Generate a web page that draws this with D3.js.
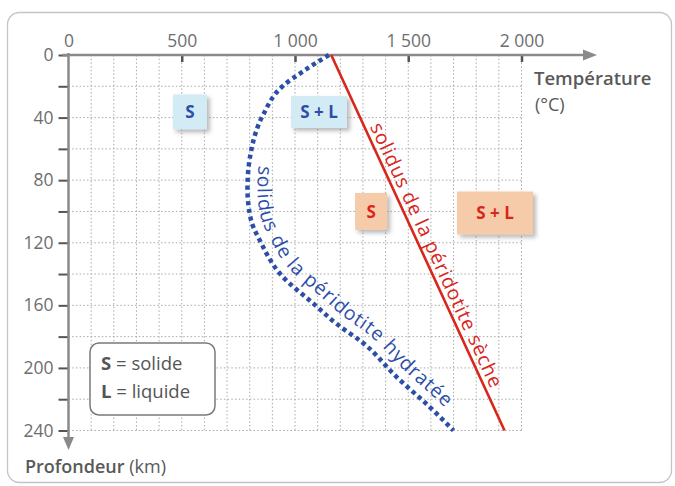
<!DOCTYPE html>
<html><head><meta charset="utf-8">
<script src="https://cdn.jsdelivr.net/npm/d3@7"></script>
<style>body{margin:0;background:#fff} svg{display:block;font-family:"Open Sans",sans-serif}</style>
</head><body><svg id="c" width="675" height="486"></svg>
<script>
// ---- data ----
const tempTicks = [0, 500, 1000, 1500, 2000];
const tempTickLabels = ["0", "500", "1 000", "1 500", "2 000"];
const depthTicks = [0, 20, 40, 60, 80, 100, 120, 140, 160, 180, 200, 220, 240];
const depthTickLabels = ["0", "", "40", "", "80", "", "120", "", "160", "", "200", "", "240"];
const drySolidusTemp = [1160, 1925];
const drySolidusDepth = [0, 240];
const wetSolidusTemp = [1150, 1040, 945, 860, 808, 790, 805, 850, 935, 1090, 1185, 1300, 1450, 1595, 1700];
const wetSolidusDepth = [0, 10, 20, 38, 60, 85, 105, 120, 140, 160, 172, 184, 206, 225, 240];
const zoneText = ["S", "S + L", "S", "S + L"];
const zoneTemp = [536, 1106, 1336, 1883];
const zoneDepth = [36.4, 36.4, 100, 101];
const zoneKind = ["wet", "wet", "dry", "dry"];
const dryLabel = "solidus de la péridotite sèche";
const wetLabel = "solidus de la péridotite hydratée";

// ---- layout ----
const svg = d3.select("#c");
const x = d3.scaleLinear().domain([0, 2000]).range([68.5, 521.5]);
const y = d3.scaleLinear().domain([0, 240]).range([55, 430.5]);
const BLUE = "#2c4ea8", RED = "#d9261c", GRAY = "#6e6e6e";

const defs = svg.append("defs");
const f = defs.append("filter").attr("id", "sh").attr("x", "-30%").attr("y", "-30%").attr("width", "170%").attr("height", "170%");
f.append("feDropShadow").attr("dx", 3).attr("dy", 3).attr("stdDeviation", 2).attr("flood-color", "#666").attr("flood-opacity", 0.45);

// frame
svg.append("rect").attr("x", 7.5).attr("y", 12.5).attr("width", 664).attr("height", 470)
  .attr("rx", 12).attr("fill", "#fff").attr("stroke", "#c4c4c4").attr("stroke-width", 1.3);

// grid
const grid = svg.append("g").attr("stroke", "#a9a9a9").attr("stroke-width", 1).attr("stroke-dasharray", "1.5,2.2");
grid.selectAll("line.v").data(d3.range(100, 2001, 100)).join("line")
  .attr("x1", d => x(d)).attr("x2", d => x(d)).attr("y1", y(0)).attr("y2", y(240));
grid.selectAll("line.h").data(d3.range(20, 241, 20)).join("line")
  .attr("x1", x(0)).attr("x2", x(2000)).attr("y1", d => y(d)).attr("y2", d => y(d));

// axes
const topAxis = d3.axisTop(x).tickValues(tempTicks).tickSize(-7).tickPadding(8)
  .tickFormat((d, i) => tempTickLabels[i]);
const gT = svg.append("g").attr("transform", `translate(0,${y(0)})`).call(topAxis);
gT.select(".domain").remove();
gT.selectAll(".tick line").attr("stroke", "#555").attr("stroke-width", 2.5);
gT.selectAll(".tick").filter(d => d === 0).select("line").remove();
gT.selectAll("text").attr("font-size", 17.5).attr("fill", GRAY).attr("font-family", "Open Sans");

const leftAxis = d3.axisLeft(y).tickValues(depthTicks).tickSize(10).tickPadding(5)
  .tickFormat((d, i) => depthTickLabels[i]);
const gL = svg.append("g").attr("transform", `translate(${x(0)},0)`).call(leftAxis);
gL.select(".domain").remove();
gL.selectAll(".tick line").attr("stroke", "#555").attr("stroke-width", 2);
gL.selectAll("text").attr("font-size", 17.5).attr("fill", GRAY).attr("font-family", "Open Sans");

// axis lines with arrows
svg.append("line").attr("x1", x(0) - 6).attr("x2", 586).attr("y1", y(0)).attr("y2", y(0))
  .attr("stroke", "#8a8a8a").attr("stroke-width", 2.5);
svg.append("path").attr("d", `M583,${y(0) - 5.5}L597,${y(0)}L583,${y(0) + 5.5}Z`).attr("fill", "#8a8a8a");
svg.append("line").attr("x1", x(0)).attr("x2", x(0)).attr("y1", y(0) - 2).attr("y2", 440)
  .attr("stroke", "#8a8a8a").attr("stroke-width", 2.5);
svg.append("path").attr("d", `M${x(0) - 5.5},437L${x(0)},450L${x(0) + 5.5},437Z`).attr("fill", "#8a8a8a");

// axis titles
svg.append("text").attr("x", 534).attr("y", 85).attr("font-size", 18.5).attr("font-weight", 600)
  .attr("fill", "#595959").text("Température");
svg.append("text").attr("x", 535).attr("y", 111).attr("font-size", 18).attr("fill", "#595959").text("(°C)");
const pt = svg.append("text").attr("x", 25).attr("y", 473).attr("font-size", 18).attr("fill", "#595959");
pt.append("tspan").attr("font-weight", 600).text("Profondeur");
pt.append("tspan").text(" (km)");

// zone boxes
zoneText.forEach((t, i) => {
  const cx = x(zoneTemp[i]), cy = y(zoneDepth[i]);
  let w, h;
  if (zoneKind[i] === "wet") { w = t === "S" ? 34 : 56; h = t === "S" ? 35 : 32; }
  else { w = t === "S" ? 32 : 76; h = t === "S" ? 37 : 43; }
  svg.append("rect").attr("x", cx - w / 2).attr("y", cy - h / 2).attr("width", w).attr("height", h)
    .attr("fill", zoneKind[i] === "wet" ? "#d3ebf5" : "#f6cba9").attr("filter", "url(#sh)");
  svg.append("text").attr("x", cx).attr("y", cy).attr("dy", "0.36em").attr("text-anchor", "middle")
    .attr("font-size", 17).attr("font-weight", 700).attr("fill", zoneKind[i] === "wet" ? BLUE : RED).text(t);
});

// curves
const dryData = drySolidusTemp.map((t, i) => [t, drySolidusDepth[i]]);
const wetData = wetSolidusTemp.map((t, i) => [t, wetSolidusDepth[i]]);
const line = d3.line().x(d => x(d[0])).y(d => y(d[1]));
const dryPath = svg.append("path").attr("d", line(dryData)).attr("fill", "none")
  .attr("stroke", RED).attr("stroke-width", 2.6);
const wetPath = svg.append("path").attr("d", line.curve(d3.curveMonotoneY)(wetData))
  .attr("fill", "none").attr("stroke", BLUE).attr("stroke-width", 4.5).attr("stroke-dasharray", "4.2,3.6");

// labels along curves
function offsetPath(node, off, yStart, yEnd) {
  const L = node.getTotalLength();
  const pts = [];
  for (let l = 0; l <= L; l += 1.5) {
    const p = node.getPointAtLength(l);
    if (p.y < yStart || p.y > yEnd) continue;
    const a = node.getPointAtLength(Math.max(0, l - 4)), b = node.getPointAtLength(Math.min(L, l + 4));
    let tx = b.x - a.x, ty = b.y - a.y; const n = Math.hypot(tx, ty); tx /= n; ty /= n;
    pts.push([p.x + off * ty, p.y - off * tx]);
  }
  return d3.line().curve(d3.curveBasis)(pts);
}
function curveLabel(id, node, off, d0, d1, txt, color) {
  const p = defs.append("path").attr("id", id).attr("d", offsetPath(node, off, y(d0), y(d1)));
  const len = p.node().getTotalLength();
  svg.append("text").attr("font-size", 19.5).attr("font-weight", 500).attr("fill", color)
    .append("textPath").attr("href", "#" + id).attr("textLength", len - 2).attr("lengthAdjust", "spacing")
    .text(txt);
}
curveLabel("dryL", dryPath.node(), 5, 47, 216, dryLabel, RED);
curveLabel("wetL", wetPath.node(), 10, 69, 231, wetLabel, BLUE);

// legend
svg.append("rect").attr("x", 90).attr("y", 343).attr("width", 125).attr("height", 72).attr("rx", 9)
  .attr("fill", "#fff").attr("stroke", "#7a7a7a").attr("stroke-width", 1.5);
[["S", " = solide", 370], ["L", " = liquide", 398]].forEach(([k, v, yy]) => {
  const t = svg.append("text").attr("x", 101).attr("y", yy).attr("font-size", 18.5).attr("fill", "#555");
  t.append("tspan").attr("font-weight", 700).text(k);
  t.append("tspan").text(v);
});
</script></body></html>
